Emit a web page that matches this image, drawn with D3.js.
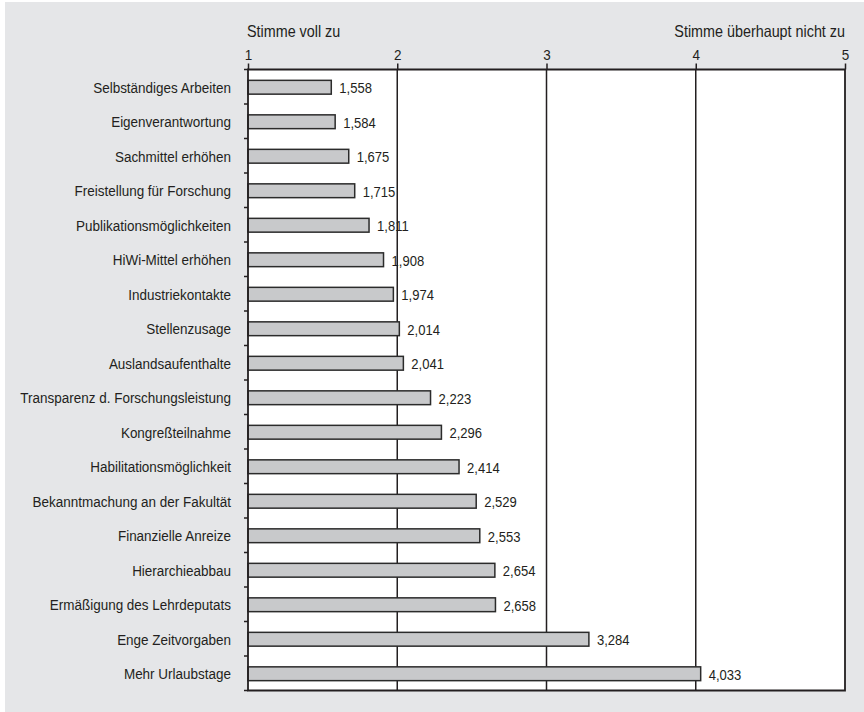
<!DOCTYPE html>
<html><head><meta charset="utf-8">
<script src="https://cdn.jsdelivr.net/npm/d3@7"></script>
<style>
body{margin:0;background:#fff;}
text{font-family:"Liberation Sans",Arial,sans-serif;fill:#231f20;}
</style></head>
<body><svg id="c" width="864" height="712"></svg>
<script>
const categories = ["Selbständiges Arbeiten","Eigenverantwortung","Sachmittel erhöhen","Freistellung für Forschung","Publikationsmöglichkeiten","HiWi-Mittel erhöhen","Industriekontakte","Stellenzusage","Auslandsaufenthalte","Transparenz d. Forschungsleistung","Kongreßteilnahme","Habilitationsmöglichkeit","Bekanntmachung an der Fakultät","Finanzielle Anreize","Hierarchieabbau","Ermäßigung des Lehrdeputats","Enge Zeitvorgaben","Mehr Urlaubstage"];
const values = [1.558,1.584,1.675,1.715,1.811,1.908,1.974,2.014,2.041,2.223,2.296,2.414,2.529,2.553,2.654,2.658,3.284,4.033];
const tickValues = [1,2,3,4,5];
const scaleLabels = ["Stimme voll zu","Stimme überhaupt nicht zu"];

const SX = 0.87; // condensed look
const svg = d3.select("#c");
svg.append("rect").attr("x",5).attr("y",2).attr("width",859).attr("height",710).attr("fill","#e5e6e8");

const L=248, R=845, T=69.5, B=690.5;
const x = d3.scaleLinear().domain([1,5]).range([L,R]);
const y = d3.scaleBand().domain(categories).range([T,B]).paddingInner(0.6).paddingOuter(0.3);
const yb = d3.scaleBand().domain(categories).range([T,B]);

svg.append("rect").attr("x",L).attr("y",T).attr("width",R-L).attr("height",B-T).attr("fill","#fff");

// gridlines
svg.append("g").selectAll("line").data(tickValues.filter(v=>v>1&&v<5)).join("line")
  .attr("x1",d=>x(d)).attr("x2",d=>x(d)).attr("y1",T).attr("y2",B)
  .attr("stroke","#231f20").attr("stroke-width",1.5);

// bars
svg.append("g").selectAll("rect").data(values).join("rect")
  .attr("x",x(1)).attr("y",(d,i)=>y(categories[i])+0.5)
  .attr("width",d=>x(d)-x(1)).attr("height",y.bandwidth())
  .attr("fill","#c8c9cb").attr("stroke","#2b2b2b").attr("stroke-width",1.5);

// value labels
svg.append("g").selectAll("text").data(values).join("text")
  .attr("transform",(d,i)=>`translate(${x(d)+8},${y(categories[i])+y.bandwidth()/2+1}) scale(${SX},1)`)
  .attr("dy","0.36em").attr("font-size",15)
  .text(d=>d3.format(".3f")(d).replace(".",","));

// frame
svg.append("path").attr("d",`M${L},${T}H${R}V${B}H${L}Z`).attr("fill","none").attr("stroke","#231f20").attr("stroke-width",1.8);

// top axis
const xa = svg.append("g").attr("transform",`translate(0,${T})`)
  .call(d3.axisTop(x).tickValues(tickValues).tickSize(6).tickFormat(d3.format("d")));
xa.select(".domain").remove();
xa.selectAll(".tick line").attr("stroke","#231f20").attr("stroke-width",1.5).attr("y2",-6);
xa.selectAll(".tick text").attr("font-size",15.5).attr("font-family",null).attr("fill","#231f20")
  .attr("y",-10).attr("transform",`scale(${SX},1)`);

// left axis
const ya = svg.append("g").attr("transform",`translate(${L},0)`)
  .call(d3.axisLeft(yb).tickSize(0).tickPadding(0));
ya.select(".domain").remove();
ya.selectAll(".tick text").attr("font-size",15.5).attr("font-family",null).attr("fill","#231f20")
  .attr("x",-17/SX).attr("dy","0.4em").attr("transform",`scale(${SX},1)`);
// boundary ticks
const bounds = categories.map(c=>yb(c)).concat([B]);
svg.append("g").selectAll("line").data(bounds).join("line")
  .attr("x1",L-4).attr("x2",L).attr("y1",d=>d).attr("y2",d=>d)
  .attr("stroke","#231f20").attr("stroke-width",1.5);

// scale headers
svg.append("text").attr("transform",`translate(${L-1},37) scale(${SX},1)`).attr("font-size",16.5).text(scaleLabels[0]);
svg.append("text").attr("transform",`translate(${R},37) scale(${SX},1)`).attr("font-size",16.5).attr("text-anchor","end").text(scaleLabels[1]);
</script></body></html>
